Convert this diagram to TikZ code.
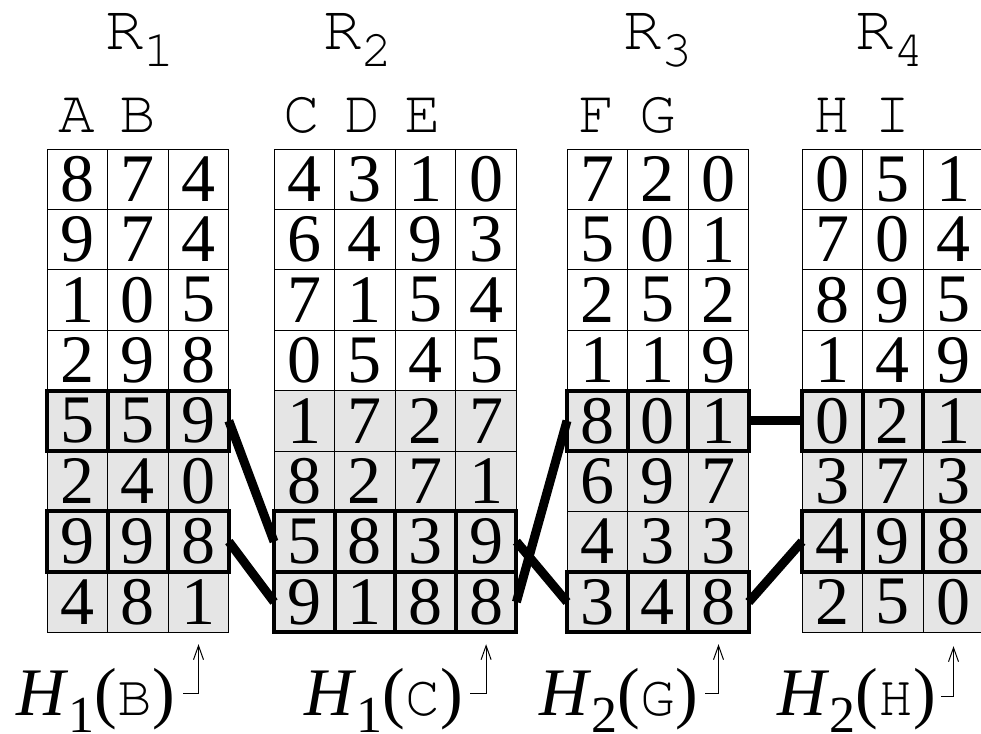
\documentclass[tikz,border=0pt]{standalone}
\usepackage{fontspec}
\setmainfont{Liberation Serif}
\setmonofont{texgyrecursor-regular.otf}
\usetikzlibrary{arrows.meta}
\newcommand{\subidx}[1]{\raisebox{-17pt}{\fontsize{52}{52}\selectfont #1}}
\begin{document}
\begin{tikzpicture}[x=1pt, y=-1pt,
    cell/.style={draw, line width=1pt, minimum width=60.6pt, minimum height=60.4pt,
      inner sep=0pt, outer sep=0pt, font=\fontsize{68}{68}\selectfont},
    rowbox/.style={line width=4pt},
    link/.style={line width=9pt},
    ptr/.style={-{Straight Barb[length=14pt, width=10pt]}, line width=1pt},
    head/.style={anchor=base, inner sep=0pt, font=\fontsize{64}{64}\ttfamily},
    attr/.style={anchor=base, inner sep=0pt, font=\fontsize{61}{61}\ttfamily},
    hlabel/.style={anchor=base east, inner sep=0pt, font=\fontsize{68}{68}\selectfont}]
  \useasboundingbox (0,0) rectangle (981,733);
  % relation names
  \node[head] (n1) at (140,50) {R\subidx{1}};
  \node[head] (n2) at (358,50) {R\subidx{2}};
  \node[head] (n3) at (658,50) {R\subidx{3}};
  \node[head] (n4) at (890,50) {R\subidx{4}};
  % attributes
  \node[attr] (aA) at (77,132) {A};
  \node[attr] (aB) at (138,132) {B};
  \node[attr] (aC) at (302,132) {C};
  \node[attr] (aD) at (363,132) {D};
  \node[attr] (aE) at (423,132) {E};
  \node[attr] (aF) at (597,132) {F};
  \node[attr] (aG) at (658,132) {G};
  \node[attr] (aH) at (832,132) {H};
  \node[attr] (aI) at (893,132) {I};
  % R_1
  \foreach \row [count=\i] in {{8,7,4},{9,7,4},{1,0,5},{2,9,8},{5,5,9},{2,4,0},{9,9,8},{4,8,1}}
    \foreach \v [count=\j] in \row {
      \pgfmathtruncatemacro\g{10*(\i>4)}
      \node[cell, fill=black!\g] (r1-\i-\j) at (47+60.6*\j-30.3, 149+60.4*\i-30.2) {\v};
    }
  % R_2
  \foreach \row [count=\i] in {{4,3,1,0},{6,4,9,3},{7,1,5,4},{0,5,4,5},{1,7,2,7},{8,2,7,1},{5,8,3,9},{9,1,8,8}}
    \foreach \v [count=\j] in \row {
      \pgfmathtruncatemacro\g{10*(\i>4)}
      \node[cell, fill=black!\g] (r2-\i-\j) at (274+60.6*\j-30.3, 149+60.4*\i-30.2) {\v};
    }
  % R_3
  \foreach \row [count=\i] in {{7,2,0},{5,0,1},{2,5,2},{1,1,9},{8,0,1},{6,9,7},{4,3,3},{3,4,8}}
    \foreach \v [count=\j] in \row {
      \pgfmathtruncatemacro\g{10*(\i>4)}
      \node[cell, fill=black!\g] (r3-\i-\j) at (567+60.6*\j-30.3, 149+60.4*\i-30.2) {\v};
    }
  % R_4
  \foreach \row [count=\i] in {{0,5,1},{7,0,4},{8,9,5},{1,4,9},{0,2,1},{3,7,3},{4,9,8},{2,5,0}}
    \foreach \v [count=\j] in \row {
      \pgfmathtruncatemacro\g{10*(\i>4)}
      \node[cell, fill=black!\g] (r4-\i-\j) at (802+60.6*\j-30.3, 149+60.4*\i-30.2) {\v};
    }
  % matching tuples
  \foreach \r in {5,7} \foreach \j in {1,2,3}
    \draw[rowbox] (r1-\r-\j.north west) rectangle (r1-\r-\j.south east);
  \foreach \r in {7,8} \foreach \j in {1,2,3,4}
    \draw[rowbox] (r2-\r-\j.north west) rectangle (r2-\r-\j.south east);
  \foreach \r in {5,8} \foreach \j in {1,2,3}
    \draw[rowbox] (r3-\r-\j.north west) rectangle (r3-\r-\j.south east);
  \foreach \r in {5,7} \foreach \j in {1,2,3}
    \draw[rowbox] (r4-\r-\j.north west) rectangle (r4-\r-\j.south east);
  % joins
  \draw[link] (r1-5-3.east) -- (r2-7-1.west);
  \draw[link] (r1-7-3.east) -- (r2-8-1.west);
  \draw[link] (r2-8-4.east) -- (r3-5-1.west);
  \draw[link] (r2-7-4.east) -- (r3-8-1.west);
  \draw[link] (r3-5-3.east) -- (r4-5-1.west);
  \draw[link] (r3-8-3.east) -- (r4-7-1.west);
  % hash labels
  \coordinate (p1) at (183,693);
  \coordinate (p2) at (470,693);
  \coordinate (p3) at (705,693);
  \coordinate (p4) at (941,696);
  \draw[ptr] (p1) -| ([yshift=-12pt]r1-8-3.south);
  \draw[ptr] (p2) -| ([yshift=-12pt]r2-8-4.south);
  \draw[ptr] (p3) -| ([yshift=-12pt]r3-8-3.south);
  \draw[ptr] (p4) -| ([yshift=-14pt]r4-8-3.south);
  \node[hlabel] (l1) at (175,715) {\textit{H}\subidx{1}({\fontsize{58}{58}\ttfamily B})};
  \node[hlabel] (l2) at (463,715) {\textit{H}\subidx{1}({\fontsize{58}{58}\ttfamily C})};
  \node[hlabel] (l3) at (698,715) {\textit{H}\subidx{2}({\fontsize{58}{58}\ttfamily G})};
  \node[hlabel] (l4) at (936,715) {\textit{H}\subidx{2}({\fontsize{58}{58}\ttfamily H})};
\end{tikzpicture}
\end{document}
